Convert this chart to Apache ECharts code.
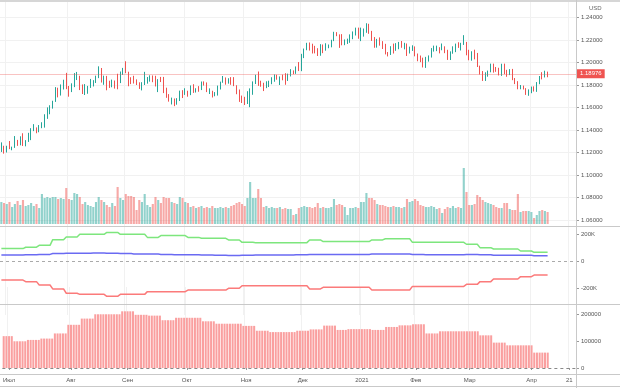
<!DOCTYPE html>
<html><head><meta charset="utf-8">
<script src="https://cdn.jsdelivr.net/npm/echarts@6/dist/echarts.min.js"></script>
<style>html,body{margin:0;padding:0;background:#fff}#c{width:620px;height:388px}</style>
</head><body><div id="c"></div><script>
// ---- axis categories (trading days) ----
const startDate = '2020-06-29';
const endDate = '2021-04-23';
const skipDates = ['2020-12-25', '2021-01-01'];

// ---- x tick labels ----
const xTickDates = ['2020-07-01','2020-08-03','2020-09-01','2020-10-01','2020-11-02','2020-12-01','2021-01-04','2021-02-01','2021-03-01','2021-04-01','2021-04-21'];
const xTickLabels = ['Июл','Авг','Сен','Окт','Ноя','Дек','2021','Фев','Мар','Апр','21'];

// ---- daily candles [open, close, low, high] ----
const ohlc = [
[1.1220,1.1244,1.1205,1.1290],[1.1244,1.1234,1.1190,1.1260],
[1.1234,1.1251,1.1200,1.1260],[1.1251,1.1238,1.1230,1.1302],[1.1238,1.1245,1.1220,1.1252],[1.1245,1.1309,1.1241,1.1346],[1.1309,1.1274,1.1259,1.1312],
[1.1274,1.1329,1.1264,1.1344],[1.1329,1.1287,1.1258,1.1371],[1.1287,1.1300,1.1255,1.1310],[1.1300,1.1343,1.1294,1.1375],[1.1343,1.1410,1.1310,1.1416],
[1.1410,1.1411,1.1390,1.1452],[1.1411,1.1383,1.1371,1.1423],[1.1383,1.1428,1.1380,1.1444],[1.1428,1.1444,1.1416,1.1469],[1.1444,1.1527,1.1421,1.1540],
[1.1527,1.1568,1.1499,1.1601],[1.1568,1.1595,1.1540,1.1620],[1.1595,1.1657,1.1590,1.1660],[1.1657,1.1753,1.1650,1.1781],[1.1753,1.1717,1.1690,1.1776],
[1.1717,1.1790,1.1706,1.1805],[1.1790,1.1846,1.1760,1.1847],[1.1846,1.1778,1.1763,1.1908],
[1.1778,1.1762,1.1696,1.1791],[1.1762,1.1801,1.1737,1.1815],[1.1801,1.1873,1.1781,1.1906],[1.1873,1.1876,1.1844,1.1916],[1.1876,1.1786,1.1755,1.1882],
[1.1786,1.1736,1.1720,1.1805],[1.1736,1.1737,1.1711,1.1808],[1.1737,1.1784,1.1722,1.1792],[1.1784,1.1814,1.1774,1.1854],[1.1814,1.1842,1.1787,1.1843],
[1.1842,1.1870,1.1818,1.1883],[1.1870,1.1931,1.1861,1.1966],[1.1931,1.1836,1.1822,1.1951],[1.1836,1.1862,1.1802,1.1883],[1.1862,1.1795,1.1753,1.1881],
[1.1795,1.1792,1.1774,1.1838],[1.1792,1.1834,1.1780,1.1848],[1.1834,1.1829,1.1768,1.1840],[1.1829,1.1821,1.1762,1.1900],[1.1821,1.1904,1.1817,1.1920],
[1.1904,1.1937,1.1890,1.1952],
[1.1937,1.1914,1.1905,1.2011],[1.1914,1.1855,1.1789,1.1918],[1.1855,1.1850,1.1808,1.1869],[1.1850,1.1838,1.1813,1.1882],[1.1838,1.1817,1.1800,1.1850],
[1.1817,1.1778,1.1765,1.1824],[1.1778,1.1801,1.1752,1.1825],[1.1801,1.1812,1.1800,1.1917],[1.1812,1.1845,1.1812,1.1871],[1.1845,1.1864,1.1830,1.1886],
[1.1864,1.1846,1.1825,1.1885],[1.1846,1.1813,1.1787,1.1882],[1.1813,1.1848,1.1737,1.1852],[1.1848,1.1838,1.1826,1.1872],[1.1838,1.1770,1.1728,1.1872],
[1.1770,1.1703,1.1686,1.1776],[1.1703,1.1658,1.1652,1.1719],[1.1658,1.1670,1.1627,1.1688],[1.1670,1.1632,1.1612,1.1680],[1.1632,1.1665,1.1625,1.1683],
[1.1665,1.1745,1.1658,1.1750],[1.1745,1.1721,1.1684,1.1754],
[1.1721,1.1746,1.1712,1.1771],[1.1746,1.1716,1.1696,1.1749],[1.1716,1.1781,1.1710,1.1796],[1.1781,1.1735,1.1730,1.1807],[1.1735,1.1760,1.1733,1.1771],
[1.1760,1.1759,1.1740,1.1790],[1.1759,1.1826,1.1755,1.1831],[1.1826,1.1813,1.1795,1.1832],[1.1813,1.1746,1.1737,1.1823],[1.1746,1.1747,1.1720,1.1770],
[1.1747,1.1706,1.1689,1.1749],[1.1706,1.1716,1.1700,1.1737],[1.1716,1.1768,1.1706,1.1795],[1.1768,1.1822,1.1760,1.1830],[1.1822,1.1862,1.1820,1.1880],
[1.1862,1.1816,1.1803,1.1867],[1.1816,1.1860,1.1812,1.1860],[1.1860,1.1812,1.1802,1.1870],[1.1812,1.1795,1.1790,1.1870],[1.1795,1.1747,1.1718,1.1798],
[1.1747,1.1673,1.1650,1.1760],[1.1673,1.1647,1.1640,1.1706],
[1.1647,1.1641,1.1622,1.1695],[1.1641,1.1716,1.1631,1.1745],[1.1716,1.1720,1.1603,1.1770],[1.1720,1.1830,1.1713,1.1832],[1.1830,1.1875,1.1809,1.1891],
[1.1875,1.1814,1.1792,1.1920],[1.1814,1.1812,1.1785,1.1838],[1.1812,1.1778,1.1746,1.1820],[1.1778,1.1806,1.1772,1.1833],[1.1806,1.1834,1.1782,1.1838],
[1.1834,1.1853,1.1807,1.1869],[1.1853,1.1857,1.1829,1.1894],[1.1857,1.1852,1.1847,1.1891],[1.1852,1.1870,1.1800,1.1876],[1.1870,1.1857,1.1842,1.1892],
[1.1857,1.1842,1.1802,1.1905],[1.1842,1.1887,1.1836,1.1901],[1.1887,1.1914,1.1876,1.1941],[1.1914,1.1913,1.1896,1.1930],[1.1913,1.1962,1.1899,1.1965],
[1.1962,1.1927,1.1924,1.2004],
[1.1927,1.2071,1.1923,1.2077],[1.2071,1.2113,1.2039,1.2124],[1.2113,1.2149,1.2109,1.2175],[1.2149,1.2122,1.2106,1.2178],[1.2122,1.2106,1.2080,1.2167],
[1.2106,1.2100,1.2081,1.2148],[1.2100,1.2080,1.2058,1.2127],[1.2080,1.2134,1.2060,1.2163],[1.2134,1.2110,1.2083,1.2160],[1.2110,1.2145,1.2105,1.2171],
[1.2145,1.2150,1.2127,1.2160],[1.2150,1.2199,1.2135,1.2202],[1.2199,1.2267,1.2190,1.2273],[1.2267,1.2255,1.2234,1.2270],[1.2255,1.2238,1.2130,1.2250],
[1.2238,1.2163,1.2153,1.2252],[1.2163,1.2188,1.2154,1.2205],[1.2188,1.2188,1.2165,1.2212],[1.2188,1.2214,1.2175,1.2250],[1.2214,1.2250,1.2207,1.2276],
[1.2250,1.2295,1.2240,1.2310],[1.2295,1.2216,1.2211,1.2310],
[1.2216,1.2250,1.2190,1.2310],[1.2250,1.2297,1.2230,1.2302],[1.2297,1.2325,1.2264,1.2349],[1.2325,1.2271,1.2255,1.2344],[1.2271,1.2219,1.2192,1.2281],
[1.2219,1.2151,1.2131,1.2226],[1.2151,1.2208,1.2132,1.2210],[1.2208,1.2158,1.2150,1.2223],[1.2158,1.2154,1.2120,1.2190],[1.2154,1.2082,1.2072,1.2166],
[1.2082,1.2077,1.2054,1.2093],[1.2077,1.2130,1.2067,1.2145],[1.2130,1.2107,1.2080,1.2168],[1.2107,1.2164,1.2104,1.2172],[1.2164,1.2171,1.2118,1.2183],
[1.2171,1.2142,1.2131,1.2191],[1.2142,1.2160,1.2117,1.2175],[1.2160,1.2111,1.2058,1.2169],[1.2111,1.2117,1.2080,1.2141],[1.2117,1.2136,1.2103,1.2153],
[1.2136,1.2060,1.2055,1.2143],[1.2060,1.2040,1.2011,1.2080],[1.2040,1.2036,1.2003,1.2062],[1.2036,1.1963,1.1956,1.2043],[1.1963,1.2048,1.1952,1.2050],
[1.2048,1.2051,1.2008,1.2063],[1.2051,1.2118,1.2044,1.2128],[1.2118,1.2119,1.2097,1.2150],[1.2119,1.2131,1.2101,1.2150],[1.2131,1.2118,1.2081,1.2136],
[1.2118,1.2128,1.2109,1.2169],[1.2128,1.2106,1.2083,1.2144],[1.2106,1.2040,1.2023,1.2113],[1.2040,1.2093,1.2022,1.2099],[1.2093,1.2118,1.2078,1.2144],
[1.2118,1.2155,1.2092,1.2168],[1.2155,1.2149,1.2130,1.2180],[1.2149,1.2168,1.2107,1.2175],[1.2168,1.2174,1.2156,1.2243],[1.2174,1.2075,1.2064,1.2183],
[1.2075,1.2048,1.2020,1.2113],[1.2048,1.2090,1.2016,1.2100],[1.2090,1.2063,1.2028,1.2114],[1.2063,1.1967,1.1960,1.2085],[1.1967,1.1915,1.1893,1.1972],
[1.1915,1.1848,1.1836,1.1924],[1.1848,1.1900,1.1836,1.1913],[1.1900,1.1926,1.1874,1.1928],[1.1926,1.1985,1.1913,1.1990],[1.1985,1.1953,1.1910,1.1990],
[1.1953,1.1930,1.1917,1.1960],[1.1930,1.1902,1.1885,1.1953],[1.1902,1.1978,1.1881,1.1989],[1.1978,1.1915,1.1896,1.1990],[1.1915,1.1905,1.1873,1.1935],
[1.1905,1.1937,1.1888,1.1941],[1.1937,1.1853,1.1843,1.1943],[1.1853,1.1815,1.1808,1.1862],[1.1815,1.1764,1.1762,1.1834],[1.1764,1.1792,1.1762,1.1800],
[1.1792,1.1763,1.1760,1.1795],[1.1763,1.1719,1.1712,1.1772],[1.1719,1.1730,1.1704,1.1761],
[1.1730,1.1778,1.1727,1.1786],[1.1778,1.1761,1.1742,1.1788],[1.1761,1.1814,1.1739,1.1826],[1.1814,1.1874,1.1807,1.1880],[1.1874,1.1870,1.1850,1.1914],
[1.1870,1.1916,1.1867,1.1927],[1.1916,1.18976,1.1869,1.1919]
];

// ---- daily tick volume (thousands) ----
const volume = [
22,21,20,22,17,20,23,19,24,18,19,21,18,20,16,30,26,27,26,27,
27,25,26,25,36,25,24,31,30,27,20,22,19,18,17,22,27,24,22,19,
17,21,18,37,26,24,30,28,28,27,14,24,22,30,19,17,20,27,24,21,
27,26,26,22,21,20,27,26,22,21,17,18,16,17,18,16,17,16,18,16,
16,17,16,17,16,18,19,21,22,20,18,26,42,26,26,35,26,17,18,16,
17,16,16,17,15,16,15,15,9,10,16,17,18,17,17,16,17,21,16,17,
16,16,17,25,19,20,19,17,9,16,16,17,16,22,22,31,26,26,24,20,
19,19,18,17,17,18,17,17,16,17,25,22,23,25,23,19,18,17,17,18,
17,15,16,11,15,17,16,18,16,17,16,56,32,19,19,20,29,27,24,22,
21,20,19,17,16,16,21,21,15,14,14,30,12,13,13,13,12,6,9,13,
14,13,12
];

// ---- weekly report values (apply from each start date) ----
const weekStarts = ['2020-06-29','2020-07-03','2020-07-10','2020-07-17','2020-07-24','2020-07-31','2020-08-07','2020-08-14','2020-08-21','2020-08-28',
'2020-09-04','2020-09-11','2020-09-18','2020-09-25','2020-10-02','2020-10-09','2020-10-16','2020-10-23','2020-10-30','2020-11-06',
'2020-11-13','2020-11-20','2020-11-27','2020-12-04','2020-12-11','2020-12-18','2020-12-24','2020-12-31','2021-01-08','2021-01-15',
'2021-01-22','2021-01-29','2021-02-05','2021-02-12','2021-02-19','2021-02-26','2021-03-05','2021-03-12','2021-03-19','2021-03-26',
'2021-04-02','2021-04-09'];
const greenWeekly = [92000,92000,102000,116000,158000,178000,198000,198000,212000,198000,198000,175000,188000,188000,175000,168000,168000,156000,138000,136000,
136000,136000,136000,156000,144000,144000,144000,144000,156000,165000,165000,138000,138000,138000,138000,124000,99000,89000,89000,74000,64000,64000];
const blueWeekly = [44000,44000,46000,49000,55000,57000,57000,60000,57000,55000,52000,52000,49000,47000,46000,44000,42000,40000,42000,44000,
44000,44000,46000,49000,49000,49000,49000,49000,52000,52000,52000,49000,47000,47000,47000,49000,47000,42000,42000,42000,39000,39000];
const redWeekly = [-141000,-141000,-153000,-178000,-207000,-239000,-247000,-247000,-262000,-247000,-247000,-227000,-227000,-227000,-215000,-215000,-215000,-202000,-183000,-183000,
-183000,-183000,-183000,-207000,-195000,-195000,-195000,-195000,-215000,-215000,-215000,-188000,-188000,-188000,-188000,-173000,-153000,-133000,-133000,-116000,-104000,-104000];
const oiWeekly = [118000,99000,104000,109000,128000,160000,183000,199000,199000,210000,197000,194000,177000,186000,186000,173000,164000,164000,156000,138000,
133000,133000,138000,143000,157000,141000,144000,144000,141000,152000,158000,162000,128000,136000,136000,136000,121000,94000,84000,84000,57000,57000];

// ---- build ----
const categories = [];
for (let d = new Date(startDate + 'T00:00:00Z'); d <= new Date(endDate + 'T00:00:00Z'); d.setUTCDate(d.getUTCDate() + 1)) {
  const wd = d.getUTCDay(); const s = d.toISOString().slice(0, 10);
  if (wd === 0 || wd === 6 || skipDates.includes(s)) continue;
  categories.push(s);
}
const tickSet = new Set(xTickDates);
const labelMap = {}; xTickDates.forEach((d, i) => labelMap[d] = xTickLabels[i]);
function daily(weekly) {
  const out = []; let w = 0;
  for (let i = 0; i < ohlc.length; i++) {
    while (w + 1 < weekStarts.length && categories[i] >= weekStarts[w + 1]) w++;
    out.push(weekly[w]);
  }
  return out;
}
const UP = '#26a69a', DOWN = '#ef5350';
const lastPrice = ohlc[ohlc.length - 1][1];
const volData = volume.map((v, i) => ({ value: v * 1000, itemStyle: { color: ohlc[i][1] >= ohlc[i][0] ? 'rgba(38,166,154,0.5)' : 'rgba(239,83,80,0.5)' } }));
const FONT = 'Liberation Sans';
const lbl = { fontSize: 6, color: '#555', fontFamily: FONT, margin: 5 };
const tick = { show: true, length: 3, lineStyle: { color: '#999' } };
const vSplit = { show: true, interval: (i, v) => tickSet.has(v), lineStyle: { color: '#f1f1f1', width: 1 } };
function hiddenX(g) {
  return { type: 'category', gridIndex: g, data: categories, axisLine: { show: false }, axisTick: { show: false }, axisLabel: { show: false }, splitLine: vSplit };
}
const chart = echarts.init(document.getElementById('c'), null, { renderer: 'canvas' });
const sep = y => ({ type: 'line', shape: { x1: 0, y1: y, x2: 620, y2: y }, style: { stroke: '#c9c9c9', lineWidth: 1 }, z: 100 });
chart.setOption({
  animation: false,
  backgroundColor: '#fff',
  grid: [
    { left: 0, right: 44, top: 0, height: 220 },
    { left: 0, right: 44, top: 160, height: 64 },
    { left: 0, right: 44, top: 207, height: 108 },
    { left: 0, right: 44, top: 287, height: 81 }
  ],
  xAxis: [
    hiddenX(0), hiddenX(1), hiddenX(2),
    { type: 'category', gridIndex: 3, data: categories, offset: 6,
      axisLine: { show: false },
      axisTick: { show: true, length: 2, alignWithLabel: true, interval: (i, v) => tickSet.has(v), lineStyle: { color: '#999' } },
      axisLabel: { interval: (i, v) => tickSet.has(v), formatter: v => labelMap[v] || '', fontSize: 6, color: '#555', fontFamily: FONT, margin: 3 },
      splitLine: vSplit }
  ],
  yAxis: [
    { type: 'value', gridIndex: 0, position: 'right', min: 1.06, max: 1.255556, interval: 0.02,
      axisLine: { show: false }, axisTick: Object.assign({}, tick, { customValues: [1.06,1.08,1.10,1.12,1.14,1.16,1.18,1.20,1.22,1.24] }),
      axisLabel: Object.assign({}, lbl, { formatter: v => v > 1.25 ? '' : v.toFixed(5) }),
      splitLine: { show: true, lineStyle: { color: '#f1f1f1' } } },
    { type: 'value', gridIndex: 1, min: 0, max: 64000, show: false },
    { type: 'value', gridIndex: 2, position: 'right', min: -400000, max: 400000, interval: 200000,
      axisLine: { show: false }, axisTick: Object.assign({}, tick, { customValues: [-200000, 0, 200000] }),
      axisLabel: Object.assign({}, lbl, { customValues: [-200000, 0, 200000], formatter: v => Math.abs(v) >= 400000 ? '' : (v === 0 ? '0' : (v / 1000) + 'K') }),
      splitLine: { show: false } },
    { type: 'value', gridIndex: 3, position: 'right', min: 0, max: 300000, interval: 100000,
      axisLine: { show: false }, axisTick: Object.assign({}, tick, { customValues: [0, 100000, 200000] }),
      axisLabel: Object.assign({}, lbl, { customValues: [0, 100000, 200000], formatter: v => v >= 300000 ? '' : String(v) }),
      splitLine: { show: false } }
  ],
  series: [
    { type: 'bar', xAxisIndex: 1, yAxisIndex: 1, data: volData, barCategoryGap: '22%', z: 1 },
    { type: 'candlestick', xAxisIndex: 0, yAxisIndex: 0, data: ohlc, barWidth: '45%', z: 3,
      itemStyle: { color: UP, color0: DOWN, borderColor: UP, borderColor0: DOWN, borderWidth: 1 },
      markLine: { symbol: ['none', 'none'], silent: true, animation: false,
        data: [{ yAxis: lastPrice }],
        lineStyle: { color: 'rgba(239,83,80,0.35)', width: 1, type: 'solid' },
        label: { show: true, position: 'end', formatter: lastPrice.toFixed(5), backgroundColor: DOWN, color: '#fff', fontSize: 6, fontFamily: FONT, padding: [2, 3, 1, 3], distance: 1 } } },
    { type: 'line', xAxisIndex: 2, yAxisIndex: 2, data: daily(greenWeekly), symbol: 'none', lineStyle: { color: '#7de67d', width: 1.5 }, z: 3,
      markLine: { symbol: ['none', 'none'], silent: true, data: [{ yAxis: 0 }], lineStyle: { color: '#aaa', type: [3, 3], width: 1 }, label: { show: false } } },
    { type: 'line', xAxisIndex: 2, yAxisIndex: 2, data: daily(blueWeekly), symbol: 'none', lineStyle: { color: '#6a6af2', width: 1.5 }, z: 3 },
    { type: 'line', xAxisIndex: 2, yAxisIndex: 2, data: daily(redWeekly), symbol: 'none', lineStyle: { color: '#fb7a7a', width: 1.5 }, z: 3 },
    { type: 'bar', xAxisIndex: 3, yAxisIndex: 3, data: daily(oiWeekly), barCategoryGap: '25%', itemStyle: { color: '#fa9f9f' }, z: 2,
      markLine: { symbol: ['none', 'none'], silent: true, data: [{ yAxis: 0 }], lineStyle: { color: '#888', type: [3, 3], width: 1 }, label: { show: false } } }
  ],
  graphic: [
    { type: 'line', shape: { x1: 0, y1: 1, x2: 620, y2: 1 }, style: { stroke: '#d6d6d6', lineWidth: 2 }, z: 100 },
    sep(226.5), sep(304.5), sep(374.5), sep(386.5),
    { type: 'line', shape: { x1: 576.5, y1: 0, x2: 576.5, y2: 388 }, style: { stroke: '#c9c9c9', lineWidth: 1 }, z: 100 },
    { type: 'text', left: 589, top: 5, style: { text: 'USD', fontSize: 6, fill: '#666', fontFamily: FONT }, z: 100 }
  ]
});
</script></body></html>
